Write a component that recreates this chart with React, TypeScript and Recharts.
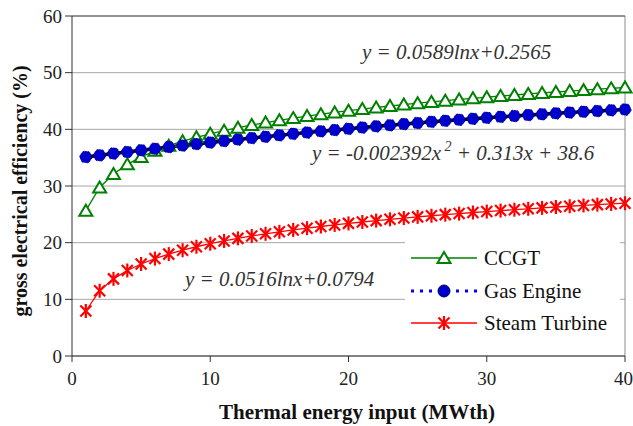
import { LineChart, Line, XAxis, YAxis, CartesianGrid, ReferenceLine } from "recharts";

// thermal input, MWth
const xValues = [
  1, 2, 3, 4, 5, 6, 7, 8, 9, 10, 11, 12, 13, 14, 15, 16, 17, 18, 19, 20,
  21, 22, 23, 24, 25, 26, 27, 28, 29, 30, 31, 32, 33, 34, 35, 36, 37, 38, 39, 40,
];

// efficiency values, %
const ccgt = [
  25.65, 29.73, 32.12, 33.82, 35.13, 36.2, 37.11, 37.9, 38.59, 39.21,
  39.77, 40.29, 40.76, 41.19, 41.6, 41.98, 42.34, 42.67, 42.99, 43.29,
  43.58, 43.86, 44.12, 44.37, 44.61, 44.84, 45.06, 45.28, 45.48, 45.68,
  45.88, 46.06, 46.24, 46.42, 46.59, 46.76, 46.92, 47.08, 47.23, 47.38,
];
const gasEngine = [
  35.11, 35.42, 35.72, 36.01, 36.31, 36.59, 36.87, 37.15, 37.42, 37.69,
  37.95, 38.21, 38.46, 38.71, 38.96, 39.2, 39.43, 39.66, 39.88, 40.1,
  40.32, 40.53, 40.73, 40.93, 41.13, 41.32, 41.51, 41.69, 41.87, 42.04,
  42.2, 42.37, 42.52, 42.68, 42.82, 42.97, 43.11, 43.24, 43.37, 43.49,
];
const steamTurbine = [
  7.94, 11.52, 13.61, 15.09, 16.24, 17.19, 17.98, 18.67, 19.28, 19.82,
  20.31, 20.76, 21.18, 21.56, 21.91, 22.25, 22.56, 22.85, 23.13, 23.4,
  23.65, 23.89, 24.12, 24.34, 24.55, 24.75, 24.95, 25.13, 25.32, 25.49,
  25.66, 25.82, 25.98, 26.14, 26.29, 26.43, 26.57, 26.71, 26.84, 26.97,
];

const xTicks = [0, 10, 20, 30, 40];
const yTicks = [0, 10, 20, 30, 40, 50, 60];

const data = xValues.map((x, i) => ({
  x,
  ccgt: ccgt[i],
  gas: gasEngine[i],
  gasTrend: gasEngine[i],
  steam: steamTurbine[i],
}));

const SERIF = "'Liberation Serif', 'Times New Roman', serif";

const Triangle = (props: any) => {
  const { cx, cy, index } = props;
  if (cx == null || cy == null) return <g key={`t${index}`} />;
  return (
    <path
      key={`t${index}`}
      d={`M${cx},${cy - 6} L${cx + 6.5},${cy + 5} L${cx - 6.5},${cy + 5} Z`}
      fill="#fff"
      stroke="#008000"
      strokeWidth={2}
    />
  );
};

const Asterisk = (props: any) => {
  const { cx, cy, index } = props;
  if (cx == null || cy == null) return <g key={`a${index}`} />;
  return (
    <g key={`a${index}`} stroke="#ff0000" strokeWidth={2.2}>
      <line x1={cx - 5.5} y1={cy - 5.5} x2={cx + 5.5} y2={cy + 5.5} />
      <line x1={cx - 5.5} y1={cy + 5.5} x2={cx + 5.5} y2={cy - 5.5} />
      <line x1={cx} y1={cy - 7} x2={cx} y2={cy + 7} />
    </g>
  );
};

const eqStyle: any = {
  position: "absolute",
  fontFamily: SERIF,
  fontStyle: "italic",
  fontSize: 21,
  lineHeight: "21px",
  color: "#333",
  whiteSpace: "nowrap",
};

const legendText: any = {
  position: "absolute",
  left: 79,
  fontFamily: SERIF,
  fontSize: 21,
  lineHeight: "22px",
  color: "#111",
  whiteSpace: "nowrap",
};

export default function App() {
  return (
    <div style={{ position: "relative", width: 633, height: 426, background: "#fff" }}>
      <style>{"body{margin:0}"}</style>
      <LineChart width={633} height={426} data={data} margin={{ top: 16, right: 8, bottom: 0, left: 0 }}>
        <CartesianGrid vertical={false} stroke="#a6a6a6" />
        <XAxis
          dataKey="x"
          type="number"
          domain={[0, 40]}
          ticks={xTicks}
          height={70}
          tickSize={6}
          tickMargin={10}
          stroke="#333"
          tick={{ fill: "#222", fontSize: 19, fontFamily: SERIF }}
        />
        <YAxis
          type="number"
          domain={[0, 60]}
          ticks={yTicks}
          width={72}
          tickSize={7}
          tickMargin={3}
          stroke="#333"
          tick={{ fill: "#222", fontSize: 19, fontFamily: SERIF }}
        />
        <ReferenceLine x={40} stroke="#8c8c8c" />
        <ReferenceLine y={60} stroke="#555" />
        <Line dataKey="ccgt" stroke="#008000" strokeWidth={1.3} dot={Triangle} isAnimationActive={false} />
        <Line
          dataKey="gas"
          stroke="#0000ff"
          strokeDasharray="2 4"
          dot={{ r: 6, fill: "#0000cc", stroke: "#000066", strokeWidth: 1 }}
          isAnimationActive={false}
        />
        <Line dataKey="gasTrend" stroke="#000" strokeWidth={3.5} dot={false} isAnimationActive={false} />
        <Line dataKey="steam" stroke="#ff0000" strokeWidth={1.3} dot={Asterisk} isAnimationActive={false} />
      </LineChart>

      <div style={{ ...eqStyle, left: 362, top: 42 }}>y = 0.0589lnx+0.2565</div>
      <div style={{ ...eqStyle, left: 312, top: 143 }}>
        y = -0.002392x<sup style={{ fontSize: 14, verticalAlign: "9px", lineHeight: 0 }}>&nbsp;2</sup> + 0.313x + 38.6
      </div>
      <div style={{ ...eqStyle, left: 185, top: 269 }}>y = 0.0516lnx+0.0794</div>

      <div style={{ position: "absolute", left: 405, top: 228, width: 215, height: 116, background: "#fff" }}>
        <svg width={72} height={20} style={{ position: "absolute", left: 6, top: 20 }}>
          <line x1={0} y1={10} x2={66} y2={10} stroke="#008000" strokeWidth={1.3} />
          {Triangle({ cx: 33, cy: 10, index: "l" })}
        </svg>
        <div style={{ ...legendText, top: 19 }}>CCGT</div>
        <svg width={72} height={20} style={{ position: "absolute", left: 6, top: 53 }}>
          <line x1={0} y1={10} x2={66} y2={10} stroke="#0000ff" strokeWidth={3} strokeDasharray="3 6" />
          <circle cx={33} cy={10} r={6} fill="#0000cc" stroke="#000066" />
        </svg>
        <div style={{ ...legendText, top: 52 }}>Gas Engine</div>
        <svg width={72} height={20} style={{ position: "absolute", left: 6, top: 85 }}>
          <line x1={0} y1={10} x2={66} y2={10} stroke="#ff0000" strokeWidth={1.3} />
          {Asterisk({ cx: 33, cy: 10, index: "l" })}
        </svg>
        <div style={{ ...legendText, top: 84 }}>Steam Turbine</div>
      </div>

      <div
        style={{
          position: "absolute",
          left: 20,
          top: 191,
          transform: "translate(-50%, -50%) rotate(-90deg)",
          fontFamily: SERIF,
          fontWeight: "bold",
          fontSize: 20,
          whiteSpace: "nowrap",
          color: "#111",
        }}
      >
        gross electrical efficiency (%)
      </div>
      <div
        style={{
          position: "absolute",
          left: 357,
          top: 400,
          transform: "translateX(-50%)",
          fontFamily: SERIF,
          fontWeight: "bold",
          fontSize: 21,
          whiteSpace: "nowrap",
          color: "#111",
        }}
      >
        Thermal energy input (MWth)
      </div>
    </div>
  );
}
